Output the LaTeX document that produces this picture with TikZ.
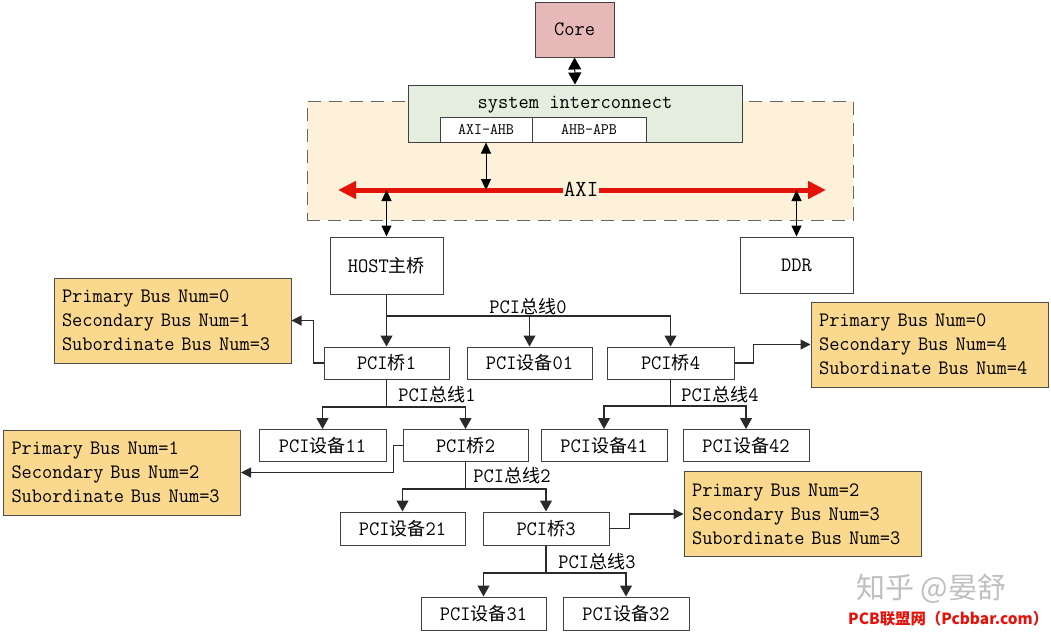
\documentclass[tikz,border=0pt]{standalone}
\usepackage{fontspec}
\setmonofont{Latin Modern Mono}[FakeStretch=0.97]
\newfontfamily\cjkfont{Noto Sans CJK SC}[Scale=0.88]
\usetikzlibrary{arrows.meta,calc}
\newcommand\zh[1]{{\cjkfont #1}}
\definecolor{corepink}{HTML}{E6B9B8}
\definecolor{sysgreen}{HTML}{E3EEDF}
\definecolor{cream}{HTML}{FDF1D9}
\definecolor{infoyel}{HTML}{FAD98F}
\definecolor{axired}{HTML}{E3120B}
\definecolor{lineclr}{HTML}{2A2A2A}
\begin{document}
\begin{tikzpicture}[x=1pt,y=-1pt,
  font=\fontsize{20.5}{24}\selectfont\ttfamily,
  box/.style={draw=black!75,line width=1pt,fill=white,inner sep=0pt,text=black},
  info/.style={draw=black!70,line width=1pt,fill=infoyel,inner xsep=8pt,inner ysep=0pt,text width=221pt,align=left,minimum height=85pt,text=black},
  conn/.style={draw=lineclr,line width=1.1pt},
  arr/.style={conn,-{Triangle[length=11pt,width=12pt]}},
  sarr/.style={conn,-{Triangle[length=10pt,width=10pt]}},
  dbl/.style={draw=black,line width=1pt,{Triangle[length=11pt,width=10pt]}-{Triangle[length=11pt,width=10pt]}},
  dblbig/.style={draw=black,line width=1pt,{Triangle[length=12pt,width=13pt]}-{Triangle[length=12pt,width=13pt]}},
  buslbl/.style={inner sep=1pt,text=black}
]
\useasboundingbox (0,0) rectangle (1051,633);

% AXI region
\node[draw=black!60,line width=1pt,dash pattern=on 13pt off 8pt,fill=cream,minimum width=546pt,minimum height=119pt,inner sep=0pt] (region) at (580,160.5) {};

% Core and system interconnect
\node[box,fill=corepink,minimum width=79pt,minimum height=55pt] (core) at (574.5,29.5) {Core};
\node[box,fill=sysgreen,minimum width=334pt,minimum height=57pt] (sys) at (575,113.5) {};
\node[inner sep=0pt,text=black] (syslbl) at (575,105) {system interconnect};
\node[box,minimum width=92pt,minimum height=25pt,font=\fontsize{16}{16}\selectfont\ttfamily] (axiahb) at (486,129.5) {AXI-AHB};
\node[box,minimum width=114pt,minimum height=25pt,font=\fontsize{16}{16}\selectfont\ttfamily] (ahbapb) at (589,129.5) {AHB-APB};

% AXI bus
\coordinate (axiL) at (338,190);
\coordinate (axiR) at (826,190);
\draw[axired,line width=5pt,{Triangle[length=18pt,width=17pt]}-{Triangle[length=18pt,width=17pt]}] (axiL) -- (axiR);
\node[fill=cream,inner sep=1pt,font=\fontsize{23}{23}\selectfont\ttfamily] (axi) at (581,189) {AXI};

% HOST and DDR
\node[box,minimum width=113pt,minimum height=57pt] (host) at (386.5,265.5) {HOST\zh{主桥}};
\node[box,minimum width=113pt,minimum height=56pt] (ddr) at (796.5,265) {DDR};

\draw[dblbig] (core.south) -- (sys.north);
\draw[dbl] (axiahb.south) -- (axiahb.south |- axiL);
\draw[dbl] (host.north |- axiL) -- (host.north);
\draw[dbl] (ddr.north |- axiL) -- (ddr.north);

% Row 1
\node[box,minimum width=125pt,minimum height=32pt] (pci1) at (386.5,363) {PCI\zh{桥}1};
\node[box,minimum width=125pt,minimum height=32pt] (dev01) at (529.5,363) {PCI\zh{设备}01};
\node[box,minimum width=127pt,minimum height=32pt] (br4) at (670.5,363) {PCI\zh{桥}4};

% Row 2
\node[box,minimum width=127pt,minimum height=32pt] (dev11) at (322.5,445.5) {PCI\zh{设备}11};
\node[box,minimum width=125pt,minimum height=32pt] (br2) at (465.5,445.5) {PCI\zh{桥}2};
\node[box,minimum width=126pt,minimum height=32pt] (dev41) at (604,445.5) {PCI\zh{设备}41};
\node[box,minimum width=126pt,minimum height=32pt] (dev42) at (746,445.5) {PCI\zh{设备}42};

% Row 3
\node[box,minimum width=125pt,minimum height=33pt] (dev21) at (402.5,528.5) {PCI\zh{设备}21};
\node[box,minimum width=126pt,minimum height=33pt] (br3) at (546,528.5) {PCI\zh{桥}3};

% Row 4
\node[box,minimum width=125pt,minimum height=33pt] (dev31) at (483.5,613.5) {PCI\zh{设备}31};
\node[box,minimum width=126pt,minimum height=33pt] (dev32) at (626,613.5) {PCI\zh{设备}32};

% Info boxes
\node[info] (info1) at (172.5,320.5) {Primary Bus Num=0\\Secondary Bus Num=1\\Subordinate Bus Num=3};
\node[info] (info4) at (929.5,344.5) {Primary Bus Num=0\\Secondary Bus Num=4\\Subordinate Bus Num=4};
\node[info] (info2) at (122,472.5) {Primary Bus Num=1\\Secondary Bus Num=2\\Subordinate Bus Num=3};
\node[info] (info3) at (802.5,514) {Primary Bus Num=2\\Secondary Bus Num=3\\Subordinate Bus Num=3};

% Bus 0
\coordinate (j0) at (386.5,316);
\draw[arr] (host.south) -- (pci1.north);
\draw[arr] (j0) -| (br4.north);
\draw[arr] (j0 -| dev01.north) -- (dev01.north);
\node[buslbl] (lbl0) at (528,307) {PCI\zh{总线}0};

% Bus 1
\coordinate (j1) at (386.5,407);
\draw[conn] (pci1.south) -- (j1);
\draw[arr] (j1) -| (dev11.north);
\draw[arr] (j1) -| (br2.north);
\node[buslbl] (lbl1) at (437,395) {PCI\zh{总线}1};

% Bus 4
\coordinate (j4) at (670.5,406);
\draw[conn] (br4.south) -- (j4);
\draw[arr] (j4) -| (dev41.north);
\draw[arr] (j4) -| (dev42.north);
\node[buslbl] (lbl4) at (720,395) {PCI\zh{总线}4};

% Bus 2
\coordinate (j2) at (465.5,489);
\draw[conn] (br2.south) -- (j2);
\draw[arr] (j2) -| (dev21.north);
\draw[arr] (j2) -| (br3.north);
\node[buslbl] (lbl2) at (512,476) {PCI\zh{总线}2};

% Bus 3
\coordinate (j3) at (546,573);
\draw[conn] (br3.south) -- (j3);
\draw[arr] (j3) -| (dev31.north);
\draw[arr] (j3) -| (dev32.north);
\node[buslbl] (lbl3) at (597,562) {PCI\zh{总线}3};

% Bridge to info connectors
\draw[sarr] (pci1.west) -- ++(-10,0) |- (info1.east);
\draw[sarr] (br4.east) -- ++(19,0) |- (info4.west);
\draw[sarr] (br2.west) -- ++(-9,0) |- (info2.east);
\draw[sarr] (br3.east) -- ++(20,0) |- (info3.west);

% Watermarks
\node[text=black!25,font=\cjkfont\fontsize{33}{33}\selectfont,anchor=west,inner sep=0pt] (wm1) at (856,589) {知乎 @晏舒};
\node[text=axired,font=\cjkfont\bfseries\fontsize{17.5}{17.5}\selectfont,anchor=west,inner sep=0pt] (wm2) at (848,619) {PCB联盟网（Pcbbar.com）};
\end{tikzpicture}
\end{document}
